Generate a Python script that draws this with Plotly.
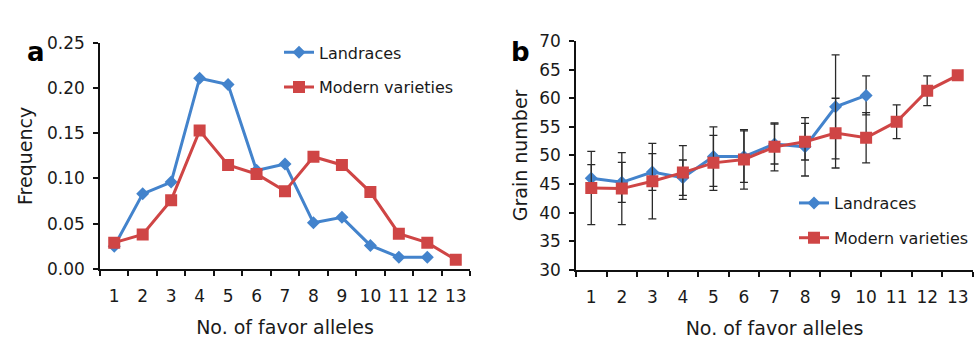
import plotly.graph_objects as go

W, H = 976, 341

# ---------- data ----------
alleles = ["1", "2", "3", "4", "5", "6", "7", "8", "9", "10", "11", "12", "13"]

# panel a: frequency
freq_land = [0.025, 0.083, 0.096, 0.211, 0.204, 0.109, 0.116, 0.051, 0.057, 0.026, 0.013, 0.013]
freq_mod = [0.029, 0.038, 0.076, 0.153, 0.115, 0.105, 0.086, 0.124, 0.115, 0.085, 0.039, 0.029, 0.010]

# panel b: grain number (mean and error)
grain_land = [46.0, 45.3, 47.1, 46.1, 49.8, 49.8, 52.0, 51.5, 58.5, 60.5]
grain_land_err = [2.4, 3.5, 3.2, 3.1, 5.2, 4.5, 3.5, 5.1, 9.1, 3.4]
grain_mod = [44.3, 44.2, 45.5, 47.0, 48.7, 49.3, 51.5, 52.4, 53.9, 53.1, 55.9, 61.3, 64.0]
grain_mod_err = [6.4, 6.3, 6.6, 4.7, 4.8, 5.2, 4.2, 3.2, 6.1, 4.4, 2.95, 2.6, 0.0]

freq_ticks = [0, 0.05, 0.10, 0.15, 0.20, 0.25]
grain_ticks = [30, 35, 40, 45, 50, 55, 60, 65, 70]

# ---------- style ----------
BLUE = "#4383CC"
RED = "#CF4545"
TXT = "#1a1a1a"
FONT = "DejaVu Sans"


def px(x):
    return x / W


def py(y):
    return 1 - y / H


fig = go.Figure()

fig.add_trace(go.Scatter(
    x=alleles[:len(freq_land)], y=freq_land, name="Landraces", mode="lines+markers",
    line=dict(color=BLUE, width=3), marker=dict(symbol="diamond", size=10, color=BLUE),
    xaxis="x", yaxis="y", legend="legend", legendgroup="la"))
fig.add_trace(go.Scatter(
    x=alleles[:len(freq_mod)], y=freq_mod, name="Modern varieties", mode="lines+markers",
    line=dict(color=RED, width=3), marker=dict(symbol="square", size=12, color=RED),
    xaxis="x", yaxis="y", legend="legend", legendgroup="ma"))

EB = dict(type="data", visible=True, color="#2a2a2a", thickness=1.3, width=4)

fig.add_trace(go.Scatter(
    x=alleles[:len(grain_land)], y=grain_land, name="Landraces", mode="lines+markers",
    line=dict(color=BLUE, width=3), marker=dict(symbol="diamond", size=10, color=BLUE),
    error_y=dict(array=grain_land_err, **EB),
    xaxis="x2", yaxis="y2", legend="legend2", legendgroup="lb"))
fig.add_trace(go.Scatter(
    x=alleles[:len(grain_mod)], y=grain_mod, name="Modern varieties", mode="lines+markers",
    line=dict(color=RED, width=3), marker=dict(symbol="square", size=12, color=RED),
    error_y=dict(array=grain_mod_err, **EB),
    xaxis="x2", yaxis="y2", legend="legend2", legendgroup="mb"))

axis_common = dict(
    showline=True, linecolor="#111", linewidth=1.6, showgrid=False, zeroline=False,
    ticks="outside", ticklen=5, tickwidth=1.6, tickcolor="#111",
    tickfont=dict(family=FONT, size=17, color=TXT),
    mirror=False,
)

xa = dict(axis_common, type="category", categoryorder="array", categoryarray=alleles,
          tickson="boundaries", range=[-0.5, 12.5], ticklabelstandoff=11, tickangle=0,
          title=dict(text="No. of favor alleles", font=dict(family=FONT, size=19, color=TXT), standoff=16))

fig.update_layout(
    width=W, height=H, autosize=False,
    margin=dict(l=0, r=0, t=0, b=0),
    paper_bgcolor="white", plot_bgcolor="white",
    font=dict(family=FONT, color=TXT),
    xaxis=dict(xa, domain=[px(100), px(470)], anchor="y"),
    yaxis=dict(axis_common, domain=[py(275), py(35)], range=[0, 0.25], tickvals=freq_ticks,
               tickformat=".2f", anchor="x", ticklabelstandoff=5,
               title=dict(text="Frequency", font=dict(family=FONT, size=19, color=TXT), standoff=9)),
    xaxis2=dict(xa, domain=[px(576), px(973)], anchor="y2"),
    yaxis2=dict(axis_common, domain=[py(276), py(33)], range=[30, 70], tickvals=grain_ticks,
                anchor="x2", ticklabelstandoff=5,
                title=dict(text="Grain number", font=dict(family=FONT, size=19, color=TXT), standoff=7)),
    legend=dict(x=px(279), y=py(27), xanchor="left", yanchor="top", bgcolor="rgba(0,0,0,0)",
                font=dict(family=FONT, size=16, color=TXT), tracegroupgap=11, traceorder="grouped"),
    legend2=dict(x=px(794), y=py(187), xanchor="left", yanchor="top", bgcolor="rgba(0,0,0,0)",
                 font=dict(family=FONT, size=16, color=TXT), tracegroupgap=11, traceorder="grouped"),
    showlegend=True,
    annotations=[
        dict(text="<b>a</b>", x=px(25), y=py(27), xref="paper", yref="paper", showarrow=False,
             font=dict(family=FONT, size=26, color="#000")),
        dict(text="<b>b</b>", x=px(520), y=py(27), xref="paper", yref="paper", showarrow=False,
             font=dict(family=FONT, size=26, color="#000")),
    ],
)

fig.write_html("out.html")
